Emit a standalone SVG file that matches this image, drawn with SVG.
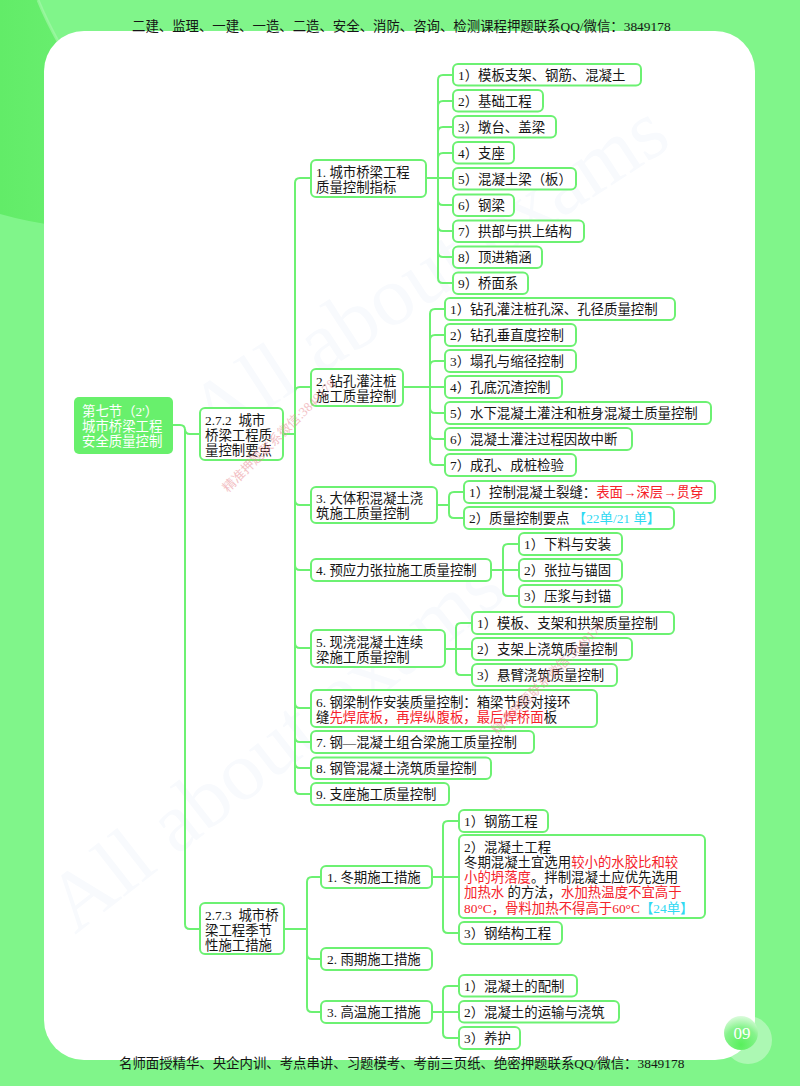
<svg xmlns="http://www.w3.org/2000/svg" width="800" height="1086" viewBox="0 0 800 1086">
<style>
text{font-family:"Liberation Serif","Noto Sans CJK SC",sans-serif;font-size:13.4px;fill:#151515;white-space:pre}
.n rect{fill:#fff;stroke:#6cf172;stroke-width:2}
.c path{fill:none;stroke:#6cf172;stroke-width:2}
.r{fill:#f5222a}.b{fill:#2fd9f2}
text.wm{fill:#f8fafd;font-size:84px}
text.pk{fill:#e8848c;font-size:13px;opacity:.5}
text.w{fill:#fff}
</style>
<defs>
<radialGradient id="ball" cx=".5" cy=".85" r=".85"><stop offset="0" stop-color="#58f05c"/><stop offset=".6" stop-color="#86f38c"/><stop offset="1" stop-color="#dcfbdd"/></radialGradient>
<linearGradient id="dk" x1="0" y1="0" x2="1" y2="0"><stop offset="0" stop-color="#62ec68"/><stop offset="1" stop-color="#68ee6e"/></linearGradient>
</defs>
<rect width="800" height="1086" fill="#80f58a"/>
<path d="M0 0H38Q46 20 60 45V226Q28 222 0 214Z" fill="url(#dk)"/>
<path d="M38 0Q46 20 60 45" fill="none" stroke="#a8f8ae" stroke-width="3" opacity=".6"/>
<rect x="44" y="31" width="711" height="1029" rx="40" fill="#fff"/>
<text transform="translate(75 935) rotate(-38)" class="wm">All about exams</text>
<text transform="translate(212 445) rotate(-33)" class="wm">All about exams</text>
<circle cx="748" cy="1040" r="24" fill="#fff" opacity=".35"/>
<circle cx="741" cy="1033" r="17" fill="url(#ball)"/>
<text x="742" y="1039" text-anchor="middle" style="fill:#fff;font-size:17px">09</text>
<text x="132" y="31">二建、监理、一建、一造、二造、安全、消防、咨询、检测课程押题联系QQ/微信：3849178</text>
<text x="119" y="1068">名师面授精华、央企内训、考点串讲、习题模考、考前三页纸、绝密押题联系QQ/微信：3849178</text>
<g class="c">
<path d="M173 425H180Q185 425 185 430V924Q185 929 190 929H200M185 429Q185 434 190 434H200"/>
<path d="M284 434H295M300 178Q295 178 295 183V789Q295 794 300 794H311M295 392Q295 387 300 387H311M295 500Q295 505 300 505H311M295 565Q295 570 300 570H311M295 643Q295 648 300 648H311M295 703Q295 708 300 708H311M295 737Q295 742 300 742H311M295 763Q295 768 300 768H311M300 178H311"/>
<path d="M284 929H307M312 877Q307 877 307 882V1007Q307 1012 312 1012H321M307 954Q307 959 312 959H321M312 877H321"/>
<path d="M426 178H453M443 75Q438 75 438 80V278Q438 283 443 283H453M438 106Q438 101 443 101H453M438 132Q438 127 443 127H453M438 158Q438 153 443 153H453M438 200Q438 205 443 205H453M438 226Q438 231 443 231H453M438 252Q438 257 443 257H453M443 75H453"/>
<path d="M404 387H445M435 309Q430 309 430 314V460Q430 465 435 465H445M430 340Q430 335 435 335H445M430 366Q430 361 435 361H445M430 408Q430 413 435 413H445M430 434Q430 439 435 439H445M435 309H445"/>
<path d="M437 505H449M454 492Q449 492 449 497V513Q449 518 454 518H464M454 492H464"/>
<path d="M491 570H519M508 544Q503 544 503 549V591Q503 596 508 596H519M508 544H519"/>
<path d="M445 649H472M461 623Q456 623 456 628V670Q456 675 461 675H472M461 623H472"/>
<path d="M432 877H459M448 821Q443 821 443 826V928Q443 933 448 933H459M448 821H459"/>
<path d="M432 1012H459M448 986Q443 986 443 991V1033Q443 1038 448 1038H459M448 986H459"/>
</g>
<g id="root"><rect x="74" y="397" width="99" height="57" rx="5" fill="#68f06c"/>
<text class="w" x="82" y="416">第七节（2'）</text><text class="w" x="82" y="431">城市桥梁工程</text><text class="w" x="82" y="446">安全质量控制</text></g>
<g class="n">
<g id="n272"><rect x="200" y="408" width="83" height="52" rx="5"/><text x="205" y="425">2.7.2  城市</text><text x="205" y="440">桥梁工程质</text><text x="205" y="455">量控制要点</text></g>
<g id="n273"><rect x="200" y="903" width="84" height="51" rx="5"/><text x="205" y="920">2.7.3  城市桥</text><text x="205" y="935">梁工程季节</text><text x="205" y="950">性施工措施</text></g>
<g id="a1"><rect x="311" y="160" width="115" height="37" rx="5"/><text x="316" y="177">1. 城市桥梁工程</text><text x="316" y="192">质量控制指标</text></g>
<g id="a11"><rect x="453" y="64" width="188" height="21.500" rx="5"/><text x="458" y="80">1）模板支架、钢筋、混凝土</text></g>
<g id="a12"><rect x="453" y="90" width="90" height="21.500" rx="5"/><text x="458" y="106">2）基础工程</text></g>
<g id="a13"><rect x="453" y="116" width="103" height="21.500" rx="5"/><text x="458" y="132">3）墩台、盖梁</text></g>
<g id="a14"><rect x="453" y="142" width="61" height="21.500" rx="5"/><text x="458" y="158">4）支座</text></g>
<g id="a15"><rect x="453" y="168" width="123" height="21.500" rx="5"/><text x="458" y="184">5）混凝土梁（板）</text></g>
<g id="a16"><rect x="453" y="194.500" width="61" height="21.500" rx="5"/><text x="458" y="210">6）钢梁</text></g>
<g id="a17"><rect x="453" y="220.500" width="131" height="21.500" rx="5"/><text x="458" y="236">7）拱部与拱上结构</text></g>
<g id="a18"><rect x="453" y="246.500" width="89" height="21.500" rx="5"/><text x="458" y="262">8）顶进箱涵</text></g>
<g id="a19"><rect x="453" y="272.500" width="75" height="21.500" rx="5"/><text x="458" y="288">9）桥面系</text></g>
<g id="a2"><rect x="311" y="369" width="92" height="37" rx="5"/><text x="316" y="386">2. 钻孔灌注桩</text><text x="316" y="401">施工质量控制</text></g>
<g id="a21"><rect x="445" y="298" width="230" height="22" rx="5"/><text x="450" y="314">1）钻孔灌注桩孔深、孔径质量控制</text></g>
<g id="a22"><rect x="445" y="324" width="131" height="22" rx="5"/><text x="450" y="340">2）钻孔垂直度控制</text></g>
<g id="a23"><rect x="445" y="350" width="131" height="22" rx="5"/><text x="450" y="366">3）塌孔与缩径控制</text></g>
<g id="a24"><rect x="445" y="376" width="117" height="22" rx="5"/><text x="450" y="392">4）孔底沉渣控制</text></g>
<g id="a25"><rect x="445" y="402" width="266" height="22" rx="5"/><text x="450" y="418">5）水下混凝土灌注和桩身混凝土质量控制</text></g>
<g id="a26"><rect x="445" y="428" width="187" height="22" rx="5"/><text x="450" y="444">6）混凝土灌注过程因故中断</text></g>
<g id="a27"><rect x="445" y="454" width="131" height="22" rx="5"/><text x="450" y="470">7）成孔、成桩检验</text></g>
<g id="a3"><rect x="311" y="487" width="126" height="36" rx="5"/><text x="316" y="503">3. 大体积混凝土浇</text><text x="316" y="518">筑施工质量控制</text></g>
<g id="a31"><rect x="464" y="481" width="251" height="22" rx="5"/><text x="469" y="497">1）控制混凝土裂缝：<tspan class="r">表面→深层→贯穿</tspan></text></g>
<g id="a32"><rect x="464" y="507" width="210" height="22" rx="5"/><text x="469" y="523">2）质量控制要点 <tspan class="b">【22单/21 单】</tspan></text></g>
<g id="a4"><rect x="311" y="559" width="180" height="22" rx="5"/><text x="316" y="575">4. 预应力张拉施工质量控制</text></g>
<g id="a41"><rect x="519" y="533" width="103" height="22" rx="5"/><text x="524" y="549">1）下料与安装</text></g>
<g id="a42"><rect x="519" y="559" width="103" height="22" rx="5"/><text x="524" y="575">2）张拉与锚固</text></g>
<g id="a43"><rect x="519" y="585" width="103" height="22" rx="5"/><text x="524" y="601">3）压浆与封锚</text></g>
<g id="a5"><rect x="311" y="630" width="134" height="37" rx="5"/><text x="316" y="647">5. 现浇混凝土连续</text><text x="316" y="662">梁施工质量控制</text></g>
<g id="a51"><rect x="472" y="612" width="202" height="22" rx="5"/><text x="477" y="628">1）模板、支架和拱架质量控制</text></g>
<g id="a52"><rect x="472" y="638" width="160" height="22" rx="5"/><text x="477" y="654">2）支架上浇筑质量控制</text></g>
<g id="a53"><rect x="472" y="664" width="145" height="22" rx="5"/><text x="477" y="680">3）悬臂浇筑质量控制</text></g>
<g id="a6"><rect x="311" y="690" width="286" height="37" rx="5"/><text x="316" y="707">6. 钢梁制作安装质量控制：箱梁节段对接环</text><text x="316" y="722">缝<tspan class="r">先焊底板，再焊纵腹板，最后焊桥面</tspan>板</text></g>
<g id="a7"><rect x="311" y="731" width="223" height="22" rx="5"/><text x="316" y="747">7. 钢—混凝土组合梁施工质量控制</text></g>
<g id="a8"><rect x="311" y="757.500" width="180" height="21.500" rx="5"/><text x="316" y="773">8. 钢管混凝土浇筑质量控制</text></g>
<g id="a9"><rect x="311" y="783" width="138" height="22" rx="5"/><text x="316" y="799">9. 支座施工质量控制</text></g>
<g id="b1"><rect x="321" y="866" width="111" height="22" rx="5"/><text x="327" y="882">1. 冬期施工措施</text></g>
<g id="b11"><rect x="459" y="810" width="89" height="22" rx="5"/><text x="464" y="826">1）钢筋工程</text></g>
<g id="b12"><rect x="459" y="835" width="246" height="83" rx="5"/><text x="464" y="852">2）混凝土工程</text><text x="464" y="867">冬期混凝土宜选用<tspan class="r">较小的水胶比和较</tspan></text><text x="464" y="882"><tspan class="r">小的坍落度</tspan>。拌制混凝土应优先选用</text><text x="464" y="897"><tspan class="r">加热水</tspan> 的方法，<tspan class="r">水加热温度不宜高于</tspan></text><text x="464" y="913"><tspan class="r">80°C，骨料加热不得高于60°C</tspan><tspan class="b">【24单】</tspan></text></g>
<g id="b13"><rect x="459" y="922" width="103" height="22" rx="5"/><text x="464" y="938">3）钢结构工程</text></g>
<g id="b2"><rect x="321" y="948" width="111" height="22" rx="5"/><text x="327" y="964">2. 雨期施工措施</text></g>
<g id="b3"><rect x="321" y="1001" width="111" height="22" rx="5"/><text x="327" y="1017">3. 高温施工措施</text></g>
<g id="b31"><rect x="459" y="975" width="118" height="21.500" rx="5"/><text x="464" y="991">1）混凝土的配制</text></g>
<g id="b32"><rect x="459" y="1001" width="160" height="21.500" rx="5"/><text x="464" y="1017">2）混凝土的运输与浇筑</text></g>
<g id="b33"><rect x="459" y="1027" width="61" height="22" rx="5"/><text x="464" y="1043">3）养护</text></g>
</g>
<text transform="translate(228 493) rotate(-45)" class="pk">精准押题联系微信:3849178</text>
<text transform="translate(497 735) rotate(-45)" class="pk">精准押题联系微信:3849178</text>
</svg>
